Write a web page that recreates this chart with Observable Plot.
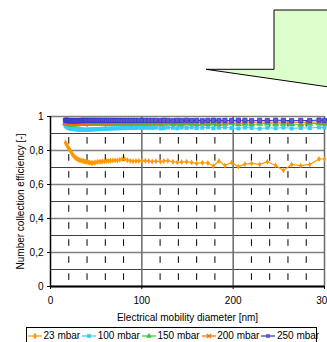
<!DOCTYPE html>
<html><head><meta charset="utf-8">
<script src="https://cdn.jsdelivr.net/npm/d3@7"></script>
<script src="https://cdn.jsdelivr.net/npm/@observablehq/plot@0.6"></script>
<style>
body{margin:0;background:#fff;font-family:"Liberation Sans",Arial,sans-serif;}
#wrap{position:relative;width:327px;height:342px;overflow:hidden;}
#chart{position:absolute;left:0;top:0;}
#callout{position:absolute;left:0;top:0;}
#legend{position:absolute;left:26px;top:327px;width:291px;height:22px;border:1px solid #000;box-sizing:border-box;display:flex;align-items:flex-start;padding-top:2px;padding-left:1px;font-size:10px;color:#000;white-space:nowrap;}
#legend .it{display:flex;align-items:center;margin-right:2px;}
#legend svg{margin-right:1.5px;}
</style></head>
<body>
<div id="wrap">
<div id="chart"></div>
<svg id="callout" width="327" height="110"><polygon points="206,69.3 274,69.3 274,10 400,10 400,97.2" fill="#DDFFCC" stroke="#000" stroke-width="1"/></svg>
<div id="legend"></div>
</div>
<script>
// Electrical mobility diameter [nm]
const diameters = [16.4,17.0,17.6,18.2,18.9,19.6,20.3,21.0,21.8,22.6,23.4,24.2,25.1,26.0,27.0,28.0,29.0,30.1,31.2,32.3,33.5,34.7,36.0,37.3,38.6,40.0,41.5,43.0,44.6,46.2,47.9,49.6,51.4,53.2,55.1,57.1,59.2,61.3,63.5,65.8,68.2,70.7,73.2,75.8,78.5,81.3,84.2,87.2,90.3,93.5,96.8,100.3,103.9,107.6,111.4,115.4,
120.5,124.1,128.5,134.0,138.8,143.5,149.0,154.5,160.0,166.2,172.3,178.3,184.4,191.0,198.3,205.7,212.9,220.2,229.0,237.4,246.5,255.0,264.0,274.0,283.8,294.0,300.0];

const seriesNames = ["23 mbar","100 mbar","150 mbar","200 mbar","250 mbar"];
const seriesColors = ["#FF9900","#33CCFF","#33CC33","#FF6600","#3333CC"];

const eff23 = [0.847,0.840,0.835,0.830,0.822,0.816,0.810,0.804,0.798,0.793,0.783,0.777,0.770,0.764,0.758,0.754,0.751,0.748,0.745,0.743,0.741,0.740,0.738,0.736,0.734,0.732,0.730,0.729,0.727,0.726,0.728,0.730,0.732,0.734,0.734,0.736,0.737,0.738,0.739,0.740,0.741,0.742,0.742,0.745,0.748,0.750,0.743,0.739,0.737,0.738,0.738,0.739,0.740,0.738,0.735,0.737,
0.734,0.738,0.740,0.734,0.730,0.732,0.734,0.730,0.724,0.728,0.726,0.709,0.738,0.712,0.730,0.705,0.720,0.724,0.718,0.734,0.712,0.683,0.718,0.711,0.718,0.750,0.750];

const eff100 = [0.948,0.945,0.942,0.940,0.937,0.935,0.933,0.931,0.930,0.929,0.928,0.927,0.927,0.926,0.926,0.925,0.925,0.924,0.924,0.924,0.923,0.923,0.923,0.922,0.922,0.922,0.923,0.923,0.924,0.924,0.925,0.925,0.926,0.926,0.927,0.927,0.928,0.928,0.929,0.929,0.930,0.930,0.931,0.931,0.932,0.932,0.933,0.933,0.932,0.933,0.934,0.933,0.934,0.934,0.933,0.935,
0.930,0.932,0.936,0.934,0.931,0.935,0.933,0.936,0.932,0.934,0.937,0.931,0.934,0.936,0.932,0.930,0.935,0.933,0.929,0.934,0.931,0.935,0.930,0.933,0.932,0.936,0.935];

const eff150 = [0.962,0.960,0.959,0.958,0.957,0.956,0.956,0.955,0.955,0.955,0.954,0.954,0.954,0.954,0.955,0.955,0.955,0.955,0.956,0.956,0.956,0.956,0.956,0.957,0.957,0.957,0.957,0.957,0.958,0.958,0.958,0.957,0.958,0.958,0.958,0.957,0.958,0.958,0.957,0.958,0.958,0.957,0.958,0.957,0.958,0.958,0.957,0.956,0.958,0.957,0.958,0.957,0.956,0.958,0.957,0.958,
0.955,0.958,0.960,0.956,0.958,0.955,0.959,0.957,0.954,0.958,0.956,0.959,0.955,0.957,0.960,0.956,0.958,0.954,0.957,0.959,0.955,0.958,0.956,0.953,0.957,0.960,0.958];

const eff200 = [0.968,0.967,0.967,0.966,0.966,0.966,0.965,0.965,0.965,0.965,0.965,0.965,0.965,0.965,0.965,0.965,0.966,0.966,0.966,0.966,0.966,0.966,0.966,0.966,0.966,0.966,0.967,0.967,0.967,0.967,0.967,0.967,0.967,0.967,0.967,0.967,0.967,0.967,0.967,0.967,0.967,0.967,0.967,0.967,0.967,0.967,0.967,0.966,0.967,0.967,0.967,0.967,0.966,0.967,0.967,0.967,
0.966,0.967,0.968,0.966,0.967,0.966,0.968,0.967,0.966,0.967,0.966,0.968,0.967,0.966,0.968,0.967,0.967,0.966,0.967,0.968,0.966,0.967,0.967,0.965,0.967,0.968,0.967];

const eff250 = [0.978,0.977,0.977,0.977,0.976,0.976,0.976,0.976,0.976,0.976,0.976,0.976,0.976,0.976,0.976,0.976,0.976,0.976,0.976,0.976,0.977,0.977,0.977,0.977,0.977,0.977,0.977,0.977,0.977,0.977,0.977,0.977,0.977,0.977,0.977,0.977,0.977,0.977,0.977,0.977,0.977,0.977,0.977,0.977,0.977,0.977,0.977,0.977,0.977,0.977,0.977,0.977,0.977,0.977,0.977,0.977,
0.976,0.978,0.977,0.975,0.977,0.976,0.978,0.976,0.977,0.975,0.977,0.978,0.976,0.977,0.976,0.978,0.977,0.975,0.977,0.976,0.978,0.977,0.975,0.977,0.976,0.979,0.977];

const xTicks = [0,100,200,300];
const yTicks = [0,0.2,0.4,0.6,0.8,1];
const yMinorGrid = [0.1,0.3,0.5,0.7,0.9];
const xDashGrid = [20,40,60,80,120,140,160,180,220,240,260,280];
const xSolidGrid = [100,200,300];
const xLabel = "Electrical mobility diameter [nm]";
const yLabel = "Number collection efficiency [-]";

const allValues = [eff23, eff100, eff150, eff200, eff250];
const symbols = ["diamond","square","triangle","times","square"];
const radii = [1.8, 2.3, 2.6, 2.2, 2.4];

function rows(vals){
  const n = Math.min(vals.length, diameters.length);
  const out = [];
  for (let i=0;i<n;i++) out.push({d:diameters[i], v:vals[i]});
  return out;
}

const seriesMarks = [];
allValues.forEach((vals, k) => {
  const data = rows(vals);
  const col = seriesColors[k];
  seriesMarks.push(Plot.line(data, {x:"d", y:"v", stroke:col, strokeWidth: k===0?1.2:1}));
  if (symbols[k]==="times") {
    seriesMarks.push(Plot.dot(data, {x:"d", y:"v", symbol:"times", r:radii[k], stroke:col, strokeWidth:1.2}));
  } else if (k===4) {
    seriesMarks.push(Plot.dot(data, {x:"d", y:"v", symbol:"square", r:radii[k], fill:"#5a5ad0", stroke:col, strokeWidth:0.8}));
  } else {
    seriesMarks.push(Plot.dot(data, {x:"d", y:"v", symbol:symbols[k], r:radii[k], fill:col, stroke:"none"}));
  }
});

const chart = Plot.plot({
  width: 327, height: 324,
  marginTop: 116, marginBottom: 38, marginLeft: 50, marginRight: 3,
  style: {fontFamily: '"Liberation Sans", Arial, sans-serif', fontSize: "10px", color: "#000", background: "transparent", overflow: "visible"},
  x: {domain: [0,300], ticks: xTicks, tickSize: 3, tickPadding: 7, label: null},
  y: {domain: [0,1], ticks: yTicks, tickSize: 3, tickPadding: 4, label: null, tickFormat: d => String(d).replace(".", ",")},
  marks: [
    Plot.ruleY(yMinorGrid, {stroke:"#404040", strokeWidth:1}),
    Plot.ruleY(yTicks, {stroke:"#808080", strokeWidth:1.5}),
    Plot.ruleX(xDashGrid, {stroke:"#000", strokeWidth:1, strokeDasharray:"6.6,10.43", strokeDashoffset:13}),
    Plot.ruleX(xSolidGrid, {stroke:"#6a6a6a", strokeWidth:1.5}),
    Plot.ruleX([0], {stroke:"#000", strokeWidth:1.5}),
    Plot.ruleY([0], {stroke:"#000", strokeWidth:2}),
    ...seriesMarks,
    Plot.text([xLabel], {frameAnchor:"bottom", dy:31, lineAnchor:"middle", textAnchor:"middle", fontSize:10, fill:"#000"}),
    Plot.text([yLabel], {frameAnchor:"left", dx:-30, rotate:-90, lineAnchor:"middle", textAnchor:"middle", fontSize:10, fill:"#000"})
  ]
});
document.getElementById("chart").appendChild(chart);

// legend
const legend = d3.select("#legend");
seriesNames.forEach((name, k) => {
  const it = legend.append("span").attr("class","it");
  const sv = it.append("svg").attr("width",14).attr("height",10);
  sv.append("line").attr("x1",0).attr("x2",14).attr("y1",5).attr("y2",5).attr("stroke",seriesColors[k]).attr("stroke-width",1.2);
  const symMap = {diamond:d3.symbolDiamond, square:d3.symbolSquare, triangle:d3.symbolTriangle, times:d3.symbolTimes};
  const p = d3.symbol(symMap[symbols[k]], 14)();
  const path = sv.append("path").attr("d", p).attr("transform","translate(7,5)");
  if (symbols[k]==="times") path.attr("fill","none").attr("stroke",seriesColors[k]).attr("stroke-width",1.2);
  else path.attr("fill", k===4 ? "#5a5ad0" : seriesColors[k]);
  it.append("span").text(name);
});
</script>
</body></html>
